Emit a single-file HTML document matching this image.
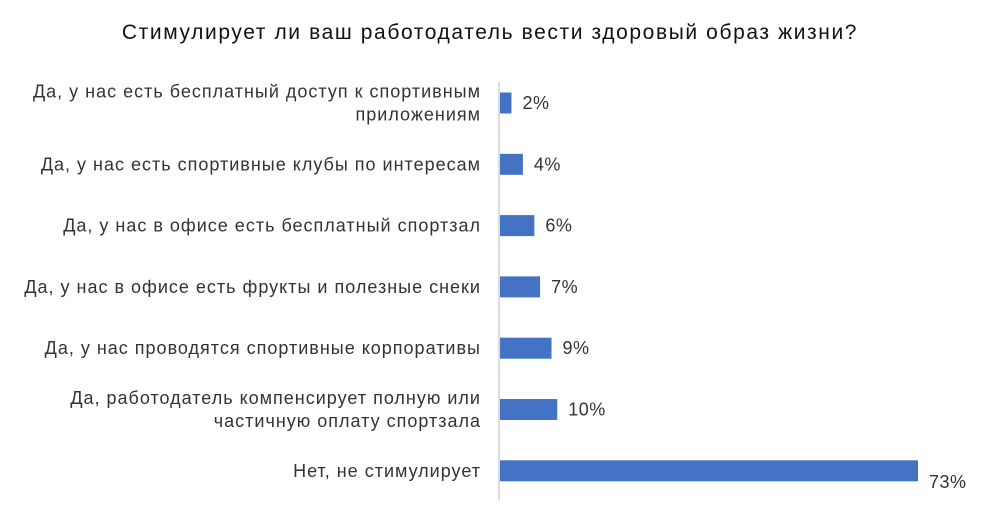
<!DOCTYPE html>
<html><head><meta charset="utf-8"><style>
body{margin:0;background:#fff;width:981px;height:525px;overflow:hidden;font-family:"Liberation Sans",sans-serif}
</style></head><body>
<svg width="981" height="525" id="c">
<text x="490" y="39" text-anchor="middle" font-size="21" letter-spacing="1.6" fill="#111">Стимулирует ли ваш работодатель вести здоровый образ жизни?</text>
<line x1="499" y1="82" x2="499" y2="500" stroke="#d0d0d0" stroke-width="1.5"/>
</svg>
<script>
const categories=[["Да, у нас есть бесплатный доступ к спортивным","приложениям"],["Да, у нас есть спортивные клубы по интересам"],["Да, у нас в офисе есть бесплатный спортзал"],["Да, у нас в офисе есть фрукты и полезные снеки"],["Да, у нас проводятся спортивные корпоративы"],["Да, работодатель компенсирует полную или","частичную оплату спортзала"],["Нет, не стимулирует"]];
const values=[2,4,6,7,9,10,73];
const valueLabels=["2%","4%","6%","7%","9%","10%","73%"];
const svg=document.getElementById('c');const NS='http://www.w3.org/2000/svg';
const x0=499,pxPer=418/73;
const xs=v=>v*pxPer;
const yc=i=>103+i*61.3;
categories.forEach((cat,i)=>{
 const c=yc(i);
 const r=document.createElementNS(NS,'rect');
 r.setAttribute('x',x0+1);r.setAttribute('y',c-10.5);r.setAttribute('width',xs(values[i]));r.setAttribute('height',21);r.setAttribute('fill','#4472c4');
 
 
 svg.appendChild(r);
 const t=document.createElementNS(NS,'text');
 const last=i===categories.length-1;
 t.setAttribute('x',last?x0+xs(values[i])+12:x0+xs(values[i])+12);
 t.setAttribute('y',last?c+17:c+6);
 t.setAttribute('font-size','18');t.setAttribute('letter-spacing','0.5');t.setAttribute('fill','#333');
 t.textContent=valueLabels[i];
 
 
 svg.appendChild(t);
 const l=document.createElementNS(NS,'text');
 l.setAttribute('text-anchor','end');l.setAttribute('font-size','18');l.setAttribute('letter-spacing','1');l.setAttribute('fill','#333');
 
 
 const n=cat.length;
 cat.forEach((line,j)=>{const s=document.createElementNS(NS,'tspan');s.setAttribute('x',481);s.setAttribute('y',c+6+(j-(n-1)/2)*23);s.textContent=line;l.appendChild(s);});
 svg.appendChild(l);
});
</script>
</body></html>
